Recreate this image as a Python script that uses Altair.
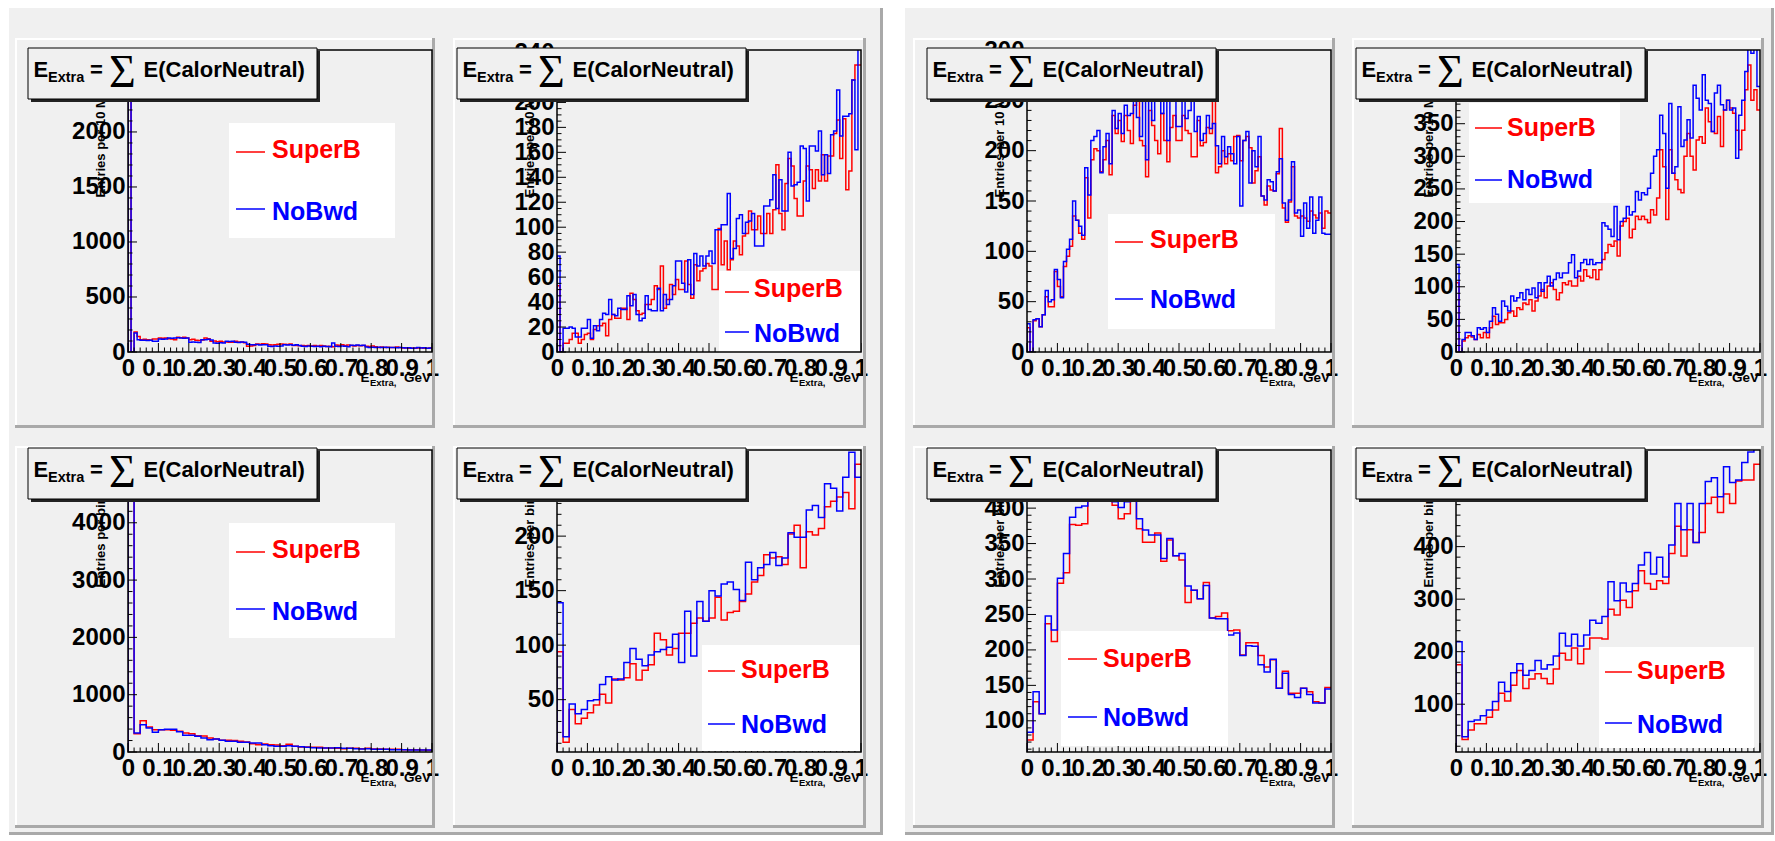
import altair as alt
import pandas as pd

FONT = "Liberation Sans"
RED = "#ff0000"
BLUE = "#0000ff"
PAD_GRAY = "#f0f0f0"
SHADE = "#a9a9a9"
W, H = 304, 302

X_TICK_LABELS = [0, 0.1, 0.2, 0.3, 0.4, 0.5, 0.6, 0.7, 0.8, 0.9, 1.0]

# ---------------- histogram contents ----------------
P1_SUPERB = [2614, 0, 182, 142, 112, 115, 112, 110, 118, 118,
             127, 124, 127, 120, 118, 112, 133, 130, 135, 128,
             112, 115, 106, 104, 110, 127, 120, 97, 100, 94,
             97, 92, 90, 88, 88, 97, 92, 90, 85, 52,
             55, 60, 73, 70, 75, 72, 67, 64, 67, 70,
             73, 70, 68, 72, 58, 60, 56, 58, 56, 60,
             55, 58, 52, 58, 55, 50, 52, 48, 64, 62,
             66, 60, 64, 58, 55, 60, 56, 58, 52, 50,
             54, 48, 42, 45, 41, 44, 40, 42, 45, 41,
             36, 38, 35, 37, 34, 36, 38, 35, 33, 36]
P1_NOBWD = [2614, 0, 173, 112, 106, 106, 104, 106, 97, 97,
            118, 115, 118, 127, 125, 127, 130, 127, 125, 128,
            88, 90, 88, 86, 112, 112, 115, 110, 82, 80,
            84, 82, 97, 95, 97, 88, 86, 90, 88, 70,
            67, 65, 68, 64, 67, 66, 52, 50, 54, 52,
            55, 67, 64, 67, 62, 65, 60, 52, 50, 54,
            52, 50, 52, 48, 52, 50, 48, 82, 52, 50,
            54, 52, 48, 62, 60, 64, 58, 62, 45, 42,
            44, 42, 43, 40, 44, 42, 40, 42, 39, 41,
            38, 36, 38, 34, 37, 42, 36, 38, 35, 37]

P2_SUPERB = [53, 0, 7, 7, 10, 15, 15, 7, 10, 14,
             15, 10, 18, 21, 21, 23, 13, 26, 30, 27,
             27, 35, 35, 26, 47, 42, 33, 30, 31, 38,
             38, 42, 53, 50, 69, 35, 42, 54, 46, 58,
             50, 50, 73, 54, 43, 70, 57, 65, 67, 71,
             69, 50, 50, 99, 70, 89, 66, 74, 89, 85,
             78, 93, 95, 113, 98, 98, 109, 95, 95, 111,
             95, 114, 150, 111, 98, 135, 155, 149, 123, 109,
             109, 137, 149, 146, 131, 146, 137, 158, 137, 157,
             157, 175, 186, 155, 187, 130, 145, 218, 230, 230]
P2_NOBWD = [77, 0, 19, 19, 20, 19, 12, 12, 19, 19,
            26, 11, 21, 17, 26, 31, 30, 42, 30, 29,
            35, 34, 34, 45, 37, 46, 30, 25, 27, 45,
            34, 33, 33, 51, 33, 46, 38, 42, 53, 73,
            73, 55, 48, 74, 46, 79, 69, 77, 69, 77,
            81, 71, 98, 98, 102, 102, 127, 75, 83, 107,
            110, 95, 104, 105, 111, 85, 85, 85, 117, 117,
            122, 142, 115, 138, 113, 113, 160, 133, 134, 136,
            165, 163, 121, 165, 165, 161, 177, 142, 158, 143,
            174, 177, 210, 173, 189, 189, 191, 218, 162, 245]

P3_SUPERB = [24, 0, 31, 33, 25, 37, 55, 45, 45, 80,
             65, 55, 85, 95, 105, 135, 131, 118, 112, 173,
             133, 191, 202, 200, 179, 191, 210, 176, 235, 217,
             230, 209, 235, 220, 207, 245, 250, 210, 205, 174,
             240, 225, 210, 197, 237, 210, 189, 223, 235, 210,
             210, 235, 220, 217, 194, 194, 230, 205, 208, 223,
             217, 257, 178, 184, 200, 187, 197, 190, 214, 215,
             190, 210, 214, 203, 168, 180, 194, 155, 146, 165,
             161, 160, 177, 222, 143, 129, 149, 184, 135, 133,
             135, 133, 130, 140, 136, 133, 138, 123, 140, 138]
P3_NOBWD = [28, 0, 32, 33, 25, 37, 61, 50, 52, 82,
            72, 54, 90, 102, 112, 150, 131, 125, 116, 183,
            156, 210, 214, 220, 178, 204, 217, 187, 240, 222,
            237, 217, 245, 235, 237, 255, 233, 214, 255, 191,
            255, 230, 255, 260, 237, 255, 210, 258, 260, 224,
            224, 258, 232, 240, 255, 219, 234, 210, 217, 235,
            222, 227, 205, 187, 214, 194, 204, 197, 187, 214,
            145, 210, 219, 168, 200, 184, 214, 155, 151, 171,
            169, 160, 179, 192, 148, 131, 151, 189, 138, 141,
            115, 148, 123, 154, 118, 131, 154, 118, 117, 117]

P4_SUPERB = [106, 0, 17, 22, 25, 23, 19, 27, 22, 30,
             22, 37, 55, 42, 45, 45, 50, 60, 63, 55,
             68, 65, 75, 73, 80, 63, 78, 86, 96, 83,
             101, 106, 96, 80, 91, 106, 103, 109, 101, 101,
             116, 109, 126, 116, 114, 126, 111, 126, 142, 152,
             165, 162, 170, 147, 193, 200, 205, 175, 188, 208,
             203, 208, 203, 198, 218, 210, 236, 310, 284, 203,
             310, 274, 264, 249, 244, 300, 335, 300, 279, 325,
             330, 320, 374, 353, 338, 335, 361, 315, 371, 386,
             374, 366, 340, 310, 340, 402, 440, 386, 402, 371]
P4_NOBWD = [134, 0, 19, 30, 30, 25, 19, 37, 35, 37,
            30, 47, 68, 58, 47, 78, 70, 63, 86, 78,
            83, 91, 80, 96, 88, 98, 83, 106, 93, 106,
            116, 101, 111, 121, 114, 121, 121, 137, 149, 114,
            124, 137, 142, 134, 142, 134, 137, 137, 198, 193,
            188, 177, 223, 172, 200, 205, 223, 210, 215, 246,
            233, 244, 241, 251, 274, 300, 310, 363, 335, 251,
            381, 274, 284, 376, 315, 325, 356, 328, 409, 389,
            371, 425, 386, 381, 338, 397, 409, 379, 371, 386,
            371, 374, 297, 363, 386, 430, 480, 458, 480, 407]

P5_SUPERB = [5019, 320, 546, 436, 390, 390, 390, 378, 360, 331,
             320, 285, 280, 244, 227, 203, 203, 200, 186, 175,
             145, 128, 140, 125, 122, 110, 134, 99, 87, 87,
             81, 81, 70, 70, 64, 58, 64, 64, 58, 64,
             52, 52, 47, 47, 47, 41, 41, 41, 35, 29]
P5_NOBWD = [5100, 331, 477, 419, 343, 390, 395, 395, 355, 291,
            291, 273, 244, 215, 227, 203, 186, 186, 169, 169,
            157, 157, 128, 110, 99, 99, 110, 99, 93, 81,
            76, 70, 70, 70, 76, 64, 64, 58, 52, 58,
            47, 47, 47, 41, 41, 41, 35, 35, 35, 35]

P6_SUPERB = [94, 11, 41, 28, 33, 38, 45, 55, 47, 69,
             68, 70, 83, 68, 77, 82, 111, 105, 91, 97,
             111, 111, 120, 125, 122, 125, 144, 123, 130, 131,
             140, 147, 158, 164, 183, 180, 181, 174, 202, 210,
             171, 204, 201, 207, 227, 232, 236, 240, 225, 266]
P6_NOBWD = [139, 16, 46, 37, 41, 49, 50, 64, 71, 68,
            69, 84, 97, 87, 81, 91, 94, 96, 98, 110,
            84, 131, 90, 140, 122, 150, 145, 156, 158, 151,
            141, 176, 160, 171, 174, 185, 173, 180, 203, 199,
            199, 224, 228, 217, 248, 244, 223, 254, 277, 254]

P7_SUPERB = [73, 127, 110, 237, 212, 294, 309, 377, 376, 378,
             425, 440, 440, 435, 404, 385, 392, 420, 371, 352,
             352, 365, 325, 355, 333, 327, 267, 284, 272, 295,
             245, 247, 252, 227, 228, 193, 210, 210, 192, 176,
             186, 146, 170, 139, 139, 146, 141, 127, 125, 147]
P7_NOBWD = [84, 141, 110, 248, 228, 301, 336, 387, 401, 403,
            430, 445, 440, 440, 409, 401, 409, 420, 385, 369,
            362, 362, 329, 357, 333, 336, 290, 284, 272, 291,
            245, 244, 244, 221, 224, 192, 206, 205, 179, 169,
            187, 146, 167, 137, 133, 146, 137, 125, 125, 145]

P8_SUPERB = [175, 33, 51, 63, 63, 75, 89, 121, 106, 136,
             164, 130, 148, 158, 149, 139, 167, 197, 184, 207,
             177, 205, 226, 226, 224, 281, 270, 298, 284, 316,
             354, 330, 319, 335, 330, 387, 439, 382, 432, 408,
             427, 482, 494, 465, 500, 482, 525, 527, 527, 557]
P8_NOBWD = [219, 38, 67, 70, 78, 89, 105, 142, 124, 160,
            177, 155, 164, 183, 167, 175, 192, 235, 211, 233,
            211, 232, 260, 254, 267, 333, 297, 331, 314, 330,
            365, 389, 348, 380, 342, 403, 482, 432, 482, 408,
            482, 524, 531, 495, 552, 522, 527, 560, 580, 590]

# y axis: domain, labelled values, minor step
P1_Y = dict(dom=[0, 2745], labels=[0, 500, 1000, 1500, 2000, 2500], minor=100)
P2_Y = dict(dom=[0, 242], labels=[0, 20, 40, 60, 80, 100, 120, 140, 160, 180, 200, 220, 240], minor=5)
P3_Y = dict(dom=[0, 300], labels=[0, 50, 100, 150, 200, 250, 300], minor=10)
P4_Y = dict(dom=[0, 463], labels=[0, 50, 100, 150, 200, 250, 300, 350, 400, 450], minor=10)
P5_Y = dict(dom=[0, 5270], labels=[0, 1000, 2000, 3000, 4000, 5000], minor=200)
P6_Y = dict(dom=[2, 279], labels=[50, 100, 150, 200, 250], minor=10)
P7_Y = dict(dom=[56, 482], labels=[100, 150, 200, 250, 300, 350, 400, 450], minor=10)
P8_Y = dict(dom=[9, 584], labels=[100, 200, 300, 400, 500], minor=20)

# legend geometry (relative to plot area): box x1,y1,x2,y2 / line x1,x2 / red y, blue y / text x / baselines
LEG = [
    (101, 73, 267, 188, 108, 137, 102, 159, 144, 108, 170),
    (162, 221, 304, 303, 168, 192, 242, 282, 197, 247, 292),
    (81, 164, 248, 279, 88, 116, 192, 249, 123, 198, 258),
    (13, 53, 164, 153, 19, 46, 78, 130, 51, 86, 138),
    (101, 73, 267, 188, 108, 137, 102, 159, 144, 108, 170),
    (145, 195, 303, 301, 151, 178, 221, 274, 184, 228, 283),
    (34, 181, 201, 296, 41, 70, 209, 267, 76, 217, 276),
    (143, 197, 298, 298, 149, 176, 222, 273, 181, 229, 283),
]

PANELS = [
    (P1_SUPERB, P1_NOBWD, P1_Y, "Entries per 10 MeV"),
    (P2_SUPERB, P2_NOBWD, P2_Y, "Entries per 10 MeV"),
    (P3_SUPERB, P3_NOBWD, P3_Y, "Entries per 10 MeV"),
    (P4_SUPERB, P4_NOBWD, P4_Y, "Entries per 10 MeV"),
    (P5_SUPERB, P5_NOBWD, P5_Y, "Entries per bin"),
    (P6_SUPERB, P6_NOBWD, P6_Y, "Entries per bin"),
    (P7_SUPERB, P7_NOBWD, P7_Y, "Entries per bin"),
    (P8_SUPERB, P8_NOBWD, P8_Y, "Entries per bin"),
]

# sub-pad extents relative to each plot origin
COL_LR = [(-113, 307), (-104, 309), (-114, 308), (-104, 308)]
ROW_TB = [(-12, 378), (-4, 378)]
PLOT_ORIGIN = (128, 50)  # absolute position of first plot area

ONE = pd.DataFrame({"k": [0]})


def vrect(x1, y1, x2, y2, fill):
    return alt.Chart(ONE).mark_rect(fill=fill).encode(
        x=alt.value(x1), x2=alt.value(x2), y=alt.value(y1), y2=alt.value(y2))


def vtext(txt, x, y, size, color="black", align="left", font=FONT, weight="bold"):
    return alt.Chart(ONE).mark_text(
        text=txt, align=align, baseline="alphabetic", font=font,
        fontSize=size, fontWeight=weight, color=color).encode(x=alt.value(x), y=alt.value(y))


def vline(x1, y1, x2, y2, color, sw):
    return alt.Chart(ONE).mark_rule(color=color, strokeWidth=sw).encode(
        x=alt.value(x1), x2=alt.value(x2), y=alt.value(y1), y2=alt.value(y2))


def bevel(l, t, r, b):
    return [
        vrect(l, t, r, t + 2, "#ffffff"),
        vrect(l, t, l + 2, b, "#ffffff"),
        vrect(l, b - 3, r, b, SHADE),
        vrect(r - 3, t, r, b, SHADE),
    ]


def global_decor():
    ox, oy = PLOT_ORIGIN
    def a(x1, y1, x2, y2, fill):
        return vrect(x1 - ox, y1 - oy, x2 - ox, y2 - oy, fill)
    return [
        a(0, 0, 1775, 8, "#ffffff"),
        a(0, 0, 9, 841, "#ffffff"),
        a(883, 0, 905, 841, "#ffffff"),
        a(0, 835, 1775, 841, "#ffffff"),
        a(1774, 0, 1775, 841, "#ffffff"),
        a(880, 8, 883, 835, SHADE),
        a(9, 832, 883, 835, SHADE),
        a(1771, 8, 1774, 835, SHADE),
        a(905, 832, 1774, 835, SHADE),
    ]


def hist_df(vals):
    nb = len(vals)
    xs = [0.0] + [i / nb for i in range(nb)] + [1.0]
    ys = [0] + list(vals) + [vals[-1]]
    return pd.DataFrame({"x": xs, "y": ys, "o": list(range(len(xs)))})


charts = []
for idx, (sup, nob, ycfg, ytitle) in enumerate(PANELS):
    col, row = idx % 4, idx // 4
    width = 345 if col == 1 else W
    xsc = alt.Scale(domain=[0, 1], range=[0, W], nice=False, zero=False)
    ysc = alt.Scale(domain=ycfg["dom"], nice=False, zero=False)
    xaxis = alt.Axis(values=X_TICK_LABELS, format=".1~f", title="", labelFont=FONT,
                     labelFontSize=24, labelFontWeight="bold", labelColor="black",
                     labelPadding=4, labelOverlap=False, labelFlush=False,
                     ticks=False, tickSize=0, domain=False, grid=False)
    yaxis = alt.Axis(values=ycfg["labels"], format="d", title=ytitle, titleAngle=270,
                     titleAlign="left", titleBaseline="middle", titleX=-28,
                     titleY=147 if row == 0 else 137, titleFont=FONT, titleFontSize=13,
                     titleFontWeight="bold", titleColor="black", labelFont=FONT,
                     labelFontSize=24, labelFontWeight="bold", labelColor="black",
                     labelPadding=3, labelOverlap=False, labelFlush=False,
                     ticks=False, tickSize=0, domain=False, grid=False)

    layers = []
    if idx == 0:
        layers += global_decor()
    l, r = COL_LR[col]
    t, b = ROW_TB[row]
    layers += bevel(l, t, r, b)

    for vals, colr in ((sup, RED), (nob, BLUE)):
        layers.append(
            alt.Chart(hist_df(vals)).mark_line(
                interpolate="step-after", clip=True, color=colr, strokeWidth=1.5
            ).encode(x=alt.X("x:Q", scale=xsc, axis=xaxis),
                     y=alt.Y("y:Q", scale=ysc, axis=yaxis),
                     order="o:Q"))

    # inward ticks
    x_major = pd.DataFrame({"v": X_TICK_LABELS})
    x_minor = pd.DataFrame({"v": [i / 50 for i in range(51) if i % 5 != 0]})
    lo, hi = ycfg["dom"]
    step = ycfg["minor"]
    y_minor_vals = [v for v in range(0, int(hi) + 1, step) if lo <= v <= hi and v not in ycfg["labels"]]
    y_major = pd.DataFrame({"v": [v for v in ycfg["labels"] if lo <= v <= hi]})
    y_minor = pd.DataFrame({"v": y_minor_vals})
    for df, ln in ((x_major, 9), (x_minor, 4.5)):
        layers.append(alt.Chart(df).mark_rule(color="black", strokeWidth=1).encode(
            x=alt.X("v:Q", scale=xsc, axis=xaxis), y=alt.value(H), y2=alt.value(H - ln)))
    for df, ln in ((y_major, 9), (y_minor, 4.5)):
        layers.append(alt.Chart(df).mark_rule(color="black", strokeWidth=1).encode(
            y=alt.Y("v:Q", scale=ysc, axis=yaxis), x=alt.value(0), x2=alt.value(ln)))

    # legend
    bx1, by1, bx2, by2, lx1, lx2, ry, byy, tx, sb, nb = LEG[idx]
    layers += [
        vrect(bx1, by1, bx2, by2, "#ffffff"),
        vline(lx1, ry, lx2, ry, RED, 1.5),
        vline(lx1, byy, lx2, byy, BLUE, 1.5),
        vtext("SuperB", tx, sb, 25, RED),
        vtext("NoBwd", tx, nb, 25, BLUE),
    ]

    # frame
    layers.append(alt.Chart(ONE).mark_rect(filled=False, stroke="black", strokeWidth=1.5).encode(
        x=alt.value(0), x2=alt.value(W), y=alt.value(0), y2=alt.value(H)))

    # title box
    layers += [
        vrect(-97, 1, 192, 52, "#222222"),
        alt.Chart(ONE).mark_rect(fill=PAD_GRAY, stroke="black", strokeWidth=1).encode(
            x=alt.value(-100), x2=alt.value(189), y=alt.value(-2), y2=alt.value(49)),
        vtext("E", -94.5, 27.3, 22),
        vtext("Extra", -80, 32.3, 14.5),
        vtext("=", -38, 27.3, 22),
        vtext("\u03a3", -19, 37.3, 46, font="Liberation Serif", weight="normal"),
        vtext("E(CalorNeutral)", 15.5, 27.3, 22),
    ]

    # x axis title
    layers += [
        vtext("E", 232.5, H + 29.7, 13.5),
        vtext("Extra,", 242, H + 34, 9.5),
        vtext("GeV", 303, H + 29.7, 13.5, align="right"),
    ]

    charts.append(alt.layer(*layers).properties(width=width, height=H))

final = alt.concat(
    *charts, columns=4, spacing={"row": 98, "column": 125}, bounds="flush", align="each"
).properties(padding=0, background=PAD_GRAY).configure_view(strokeWidth=0)

final.save("out.html", embed_options={"renderer": "svg", "actions": False})
